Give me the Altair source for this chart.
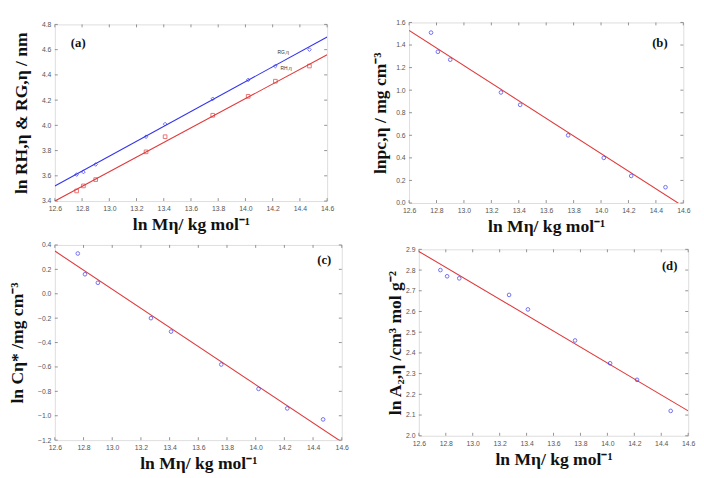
import altair as alt
import pandas as pd

# ---- data ----
x_mn = [12.76, 12.81, 12.90, 13.27, 13.41, 13.76, 14.02, 14.22, 14.47]
r_g = [3.61, 3.63, 3.69, 3.91, 4.01, 4.21, 4.36, 4.47, 4.60]
r_h = [3.48, 3.52, 3.57, 3.79, 3.91, 4.08, 4.23, 4.35, 4.47]
rho = [1.51, 1.34, 1.27, 0.98, 0.87, 0.60, 0.40, 0.24, 0.14]
c_star = [0.33, 0.16, 0.09, -0.20, -0.31, -0.58, -0.78, -0.94, -1.03]
a2 = [2.80, 2.77, 2.76, 2.68, 2.61, 2.46, 2.35, 2.27, 2.12]

fit_x = [12.6, 14.6]
r_g_fit = [3.52, 4.70]
r_h_fit = [3.40, 4.56]
rho_fit = [1.53, -0.03]
c_star_fit = [0.35, -1.215]
a2_fit = [2.89, 2.12]

x_ticks = [12.6, 12.8, 13.0, 13.2, 13.4, 13.6, 13.8, 14.0, 14.2, 14.4, 14.6]
ya_ticks = [3.4, 3.6, 3.8, 4.0, 4.2, 4.4, 4.6, 4.8]
yb_ticks = [0.0, 0.2, 0.4, 0.6, 0.8, 1.0, 1.2, 1.4, 1.6]
yc_ticks = [-1.2, -1.0, -0.8, -0.6, -0.4, -0.2, 0.0, 0.2, 0.4]
yd_ticks = [2.0, 2.1, 2.2, 2.3, 2.4, 2.5, 2.6, 2.7, 2.8, 2.9]

BLUE = "#3333ee"
RED = "#e0393a"
TICK = "#777"
SERIF = "Liberation Serif"
SANS = "Liberation Sans"
X_TITLE = "ln Mη/ kg mol⁻¹"


def axes(ydom, yvals, ytitle, ypad):
    xs = alt.Scale(domain=[12.6, 14.6], nice=False, zero=False)
    ys = alt.Scale(domain=ydom, nice=False, zero=False)
    common = dict(grid=False, labelFontSize=7, labelColor="#555", labelFont=SANS,
                  ticks=False, domain=False, labelOverlap=False,
                  labelFlush=False, titleFont=SERIF, titleFontSize=18,
                  titleFontWeight="bold", titleColor="#111", labelPadding=4)
    xa = alt.Axis(values=x_ticks, format=".1f", title=X_TITLE, titlePadding=4, **common)
    ya = alt.Axis(values=yvals, format=".1f", title=ytitle, titlePadding=ypad, **common)
    return xs, ys, xa, ya


def panel(series, ydom, yvals, ytitle, ypad, label, label_xy, w, h, extra=None):
    xs, ys, xa, ya = axes(ydom, yvals, ytitle, ypad)
    enc = dict(x=alt.X("x:Q", scale=xs, axis=xa), y=alt.Y("y:Q", scale=ys, axis=ya))
    layers = []
    # inward tick marks on all four sides of the frame
    xt = pd.DataFrame({"x": x_ticks})
    yt = pd.DataFrame({"y": yvals})
    for y0, y1 in [(h, h - 3), (0, 3)]:
        layers.append(alt.Chart(xt).mark_rule(color=TICK, strokeWidth=0.8).encode(
            x=alt.X("x:Q", scale=xs, axis=xa), y=alt.value(y0), y2=alt.value(y1)))
    for x0, x1 in [(0, 3), (w, w - 3)]:
        layers.append(alt.Chart(yt).mark_rule(color=TICK, strokeWidth=0.8).encode(
            y=alt.Y("y:Q", scale=ys, axis=ya), x=alt.value(x0), x2=alt.value(x1)))
    for pts, fit, mcolor, lcolor, shape in series:
        pdf = pd.DataFrame({"x": x_mn, "y": pts})
        fdf = pd.DataFrame({"x": fit_x, "y": fit})
        line = alt.Chart(fdf).mark_line(color=lcolor, strokeWidth=1.1, clip=True).encode(**enc)
        point = alt.Chart(pdf).mark_point(shape=shape, color=mcolor, size=14,
                                          strokeWidth=1, filled=False, clip=True).encode(**enc)
        layers += [line, point]
    lab = alt.Chart(pd.DataFrame({"t": [label]})).mark_text(
        font=SERIF, fontSize=13, fontWeight="bold", color="#111", align="center"
    ).encode(text="t:N", x=alt.value(label_xy[0]), y=alt.value(label_xy[1]))
    layers.append(lab)
    if extra is not None:
        layers += extra
    return alt.layer(*layers).properties(width=w, height=h)


small = pd.DataFrame({"t": ["RG,η", "RH,η"]})
tag_g = alt.Chart(small.iloc[[0]]).mark_text(fontSize=5, font=SANS, color="#333").encode(
    text="t:N", x=alt.value(234), y=alt.value(28))
tag_h = alt.Chart(small.iloc[[1]]).mark_text(fontSize=5, font=SANS, color="#333").encode(
    text="t:N", x=alt.value(237), y=alt.value(45))

pa = panel([(r_g, r_g_fit, BLUE, BLUE, "diamond"), (r_h, r_h_fit, RED, RED, "square")],
           [3.4, 4.8], ya_ticks, "ln RH,η & RG,η / nm", 11, "(a)", (24, 19), 279, 181,
           extra=[tag_g, tag_h])
pb = panel([(rho, rho_fit, BLUE, RED, "circle")],
           [0.0, 1.6], yb_ticks, "lnpc,η / mg cm⁻³", 6, "(b)", (257, 21), 281, 185)
pc = panel([(c_star, c_star_fit, BLUE, RED, "circle")],
           [-1.2, 0.4], yc_ticks, "ln Cη* /mg cm⁻³", 11, "(c)", (276, 15), 294, 200)
pd_ = panel([(a2, a2_fit, BLUE, RED, "circle")],
            [2.0, 2.9], yd_ticks, "ln A₂,η /cm³ mol g⁻²", 1, "(d)", (257, 17), 276, 191)

top = alt.hconcat(pa, pb, spacing=84, bounds="flush", center=True)
bottom = alt.hconcat(pc, pd_, spacing=79, bounds="flush", center=True)
chart = alt.vconcat(top, bottom, spacing=4).properties(
    padding={"top": 4, "left": 0, "right": 0, "bottom": 0}
).configure_view(stroke="#888", strokeWidth=1).configure_axis(
    labelOverlap=False
).configure(background="white")

chart.save("out.html", embed_options={"renderer": "svg", "actions": False})
